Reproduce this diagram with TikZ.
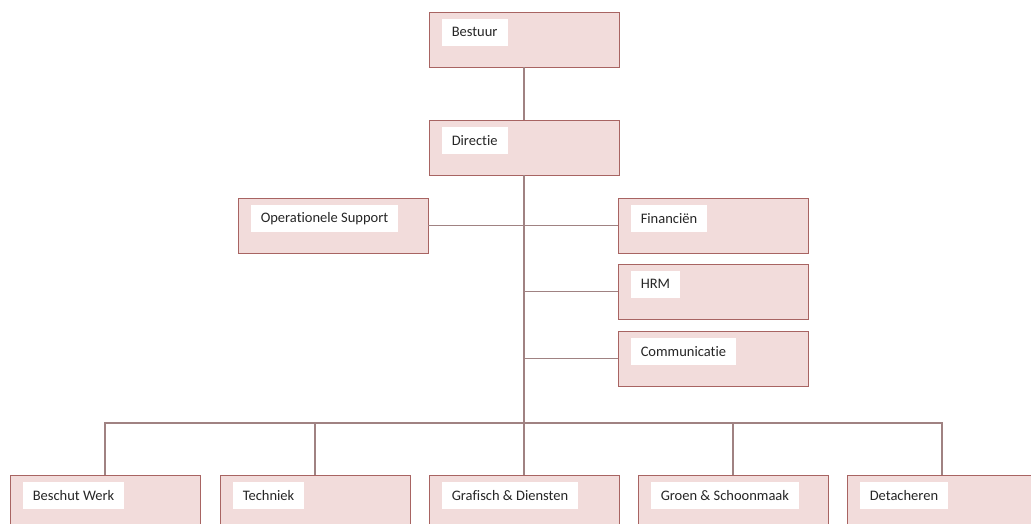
\documentclass[tikz,border=0pt]{standalone}
\usepackage{fontspec}
\setmainfont[Ligatures=NoCommon]{Carlito}
\usetikzlibrary{positioning}
\definecolor{roze}{HTML}{F2DCDB}
\definecolor{rand}{HTML}{A86462}
\definecolor{lijn}{HTML}{A08282}
\tikzset{
  afdeling/.style={rectangle, draw=rand, fill=roze, line width=0.9pt, minimum width=190pt, minimum height=55pt, inner sep=0pt},
  naam/.style={rectangle, fill=white, minimum height=27pt, inner xsep=10pt, inner ysep=0pt, text=black!85, font=\fontsize{14.5}{17}\selectfont},
  verbinding/.style={draw=lijn, line width=1.2pt}
}
\begin{document}
\begin{tikzpicture}[x=1pt, y=-1pt]
\useasboundingbox (0,0) rectangle (1031,523);
\clip (0,0) rectangle (1031,523);

\node[afdeling] (best) at (524,39.5) {};
\node[afdeling] (dir) at (524,147.5) {};
\node[afdeling] (ops) at (333,225.5) {};
\node[afdeling] (fin) at (713,225.5) {};
\node[afdeling] (hrm) at (713,291.5) {};
\node[afdeling] (comm) at (713,358.5) {};
\node[afdeling] (besch) at (105,502.5) {};
\node[afdeling] (tech) at (315,502.5) {};
\node[afdeling] (graf) at (524,502.5) {};
\node[afdeling] (groen) at (733,502.5) {};
\node[afdeling] (det) at (942,502.5) {};

% namen
\node[naam, below right=7pt and 13pt of best.north west] (best-n) {Bestuur};
\node[naam, below right=7pt and 13pt of dir.north west] (dir-n) {Directie};
\node[naam, below right=7pt and 13pt of ops.north west] (ops-n) {Operationele Support};
\node[naam, below right=7pt and 13pt of fin.north west] (fin-n) {Financiën};
\node[naam, below right=7pt and 13pt of hrm.north west] (hrm-n) {HRM};
\node[naam, below right=7pt and 13pt of comm.north west] (comm-n) {Communicatie};
\node[naam, below right=7pt and 13pt of besch.north west] (besch-n) {Beschut Werk};
\node[naam, below right=7pt and 13pt of tech.north west] (tech-n) {Techniek};
\node[naam, below right=7pt and 13pt of graf.north west] (graf-n) {Grafisch \& Diensten};
\node[naam, below right=7pt and 13pt of groen.north west] (groen-n) {Groen \& Schoonmaak};
\node[naam, below right=7pt and 13pt of det.north west] (det-n) {Detacheren};

\coordinate (bus) at (524,423);

\draw[verbinding] (best) -- (dir);
\draw[verbinding] (dir) -- (bus);
\draw[verbinding] (ops) -- (fin);
\draw[verbinding] (hrm.west) -- (hrm.west -| bus);
\draw[verbinding] (comm.west) -- (comm.west -| bus);

% onderste rij
\foreach \a in {besch,tech,graf,groen,det}
  \draw[verbinding] (bus) -| (\a.north);
\end{tikzpicture}
\end{document}
